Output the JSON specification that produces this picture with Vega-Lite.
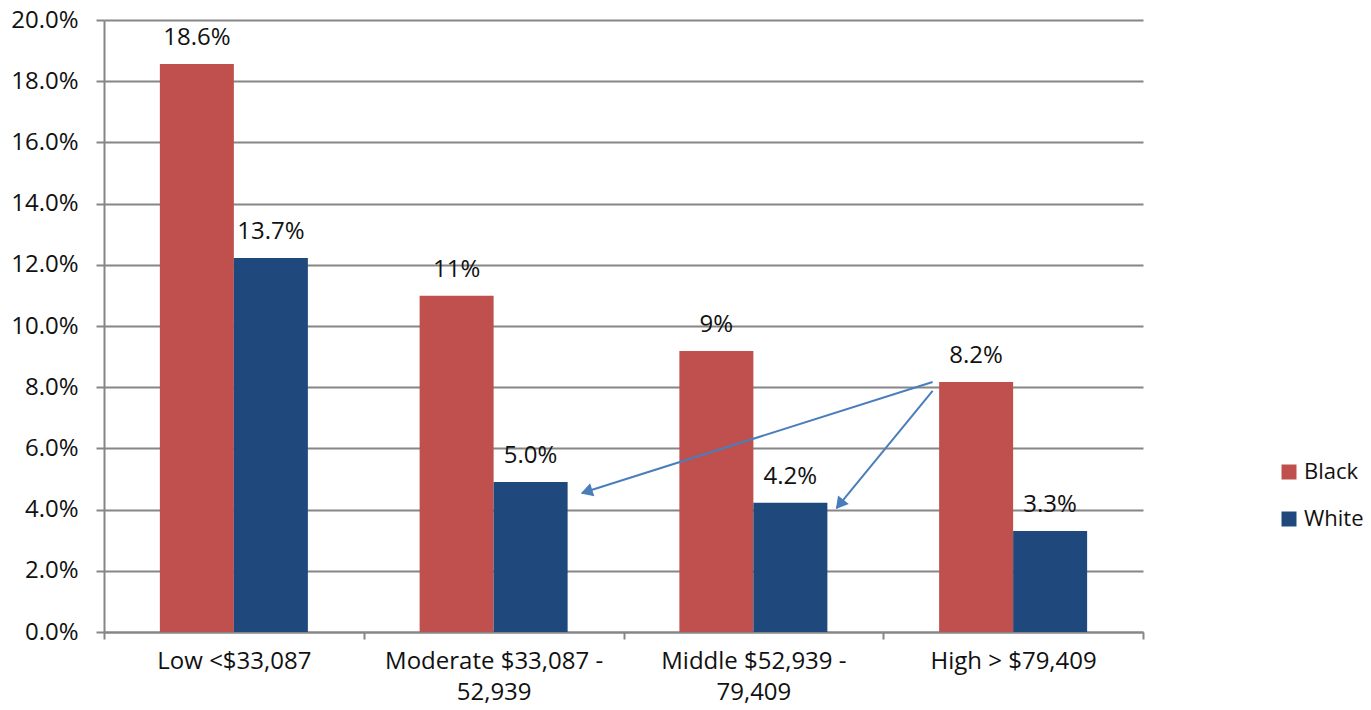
{
  "$schema": "https://vega.github.io/schema/vega-lite/v6.json",
  "width": 1039,
  "height": 612,
  "autosize": {"type": "none"},
  "padding": {"left": 104, "top": 20, "right": 228, "bottom": 78},
  "background": "white",
  "config": {
    "view": {"stroke": null},
    "font": "Open Sans",
    "axis": {"labelFont": "Open Sans", "labelColor": "#111111"},
    "legend": {"labelFont": "Open Sans"}
  },
  "datasets": {
    "bars": [
      {"income": "Low <$33,087", "race": "Black", "value": 0.1856, "label": "18.6%"},
      {"income": "Low <$33,087", "race": "White", "value": 0.1222, "label": "13.7%"},
      {"income": "Moderate $33,087 - 52,939", "race": "Black", "value": 0.1099, "label": "11%"},
      {"income": "Moderate $33,087 - 52,939", "race": "White", "value": 0.0490, "label": "5.0%"},
      {"income": "Middle $52,939 - 79,409", "race": "Black", "value": 0.0918, "label": "9%"},
      {"income": "Middle $52,939 - 79,409", "race": "White", "value": 0.0422, "label": "4.2%"},
      {"income": "High > $79,409", "race": "Black", "value": 0.0817, "label": "8.2%"},
      {"income": "High > $79,409", "race": "White", "value": 0.0330, "label": "3.3%"}
    ],
    "arrows": [
      {"arrow": "to White Moderate", "xs": 3.19, "ys": 0.0817, "xe": 1.84, "ye": 0.0454, "xh": 1.865, "yh": 0.0461},
      {"arrow": "to White Middle", "xs": 3.19, "ys": 0.0788, "xe": 2.82, "ye": 0.0405, "xh": 2.837, "yh": 0.0422}
    ]
  },
  "layer": [
    {
      "data": {"name": "bars"},
      "layer": [
        {
          "mark": {"type": "bar"},
          "encoding": {
            "x": {
              "field": "income", "type": "nominal", "sort": null,
              "scale": {"paddingInner": 0, "paddingOuter": 0},
              "axis": {
                "title": null, "labelAngle": 0, "labelFontSize": 24, "labelLimit": 0,
                "labelPadding": 10, "labelLineHeight": 31,
                "labelExpr": "split(replace(datum.label, '- ', '-|'), '|')",
                "tickBand": "extent", "tickSize": 7, "tickColor": "#868686", "tickWidth": 2,
                "domainColor": "#868686", "domainWidth": 2, "grid": false
              }
            },
            "xOffset": {"field": "race", "type": "nominal", "scale": {"paddingInner": 0, "paddingOuter": 0.755}},
            "y": {
              "field": "value", "type": "quantitative",
              "scale": {"domain": [0, 0.2], "nice": false},
              "axis": {
                "title": null, "format": ".1%", "values": [0, 0.02, 0.04, 0.06, 0.08, 0.1, 0.12, 0.14, 0.16, 0.18, 0.2],
                "labelFontSize": 24, "labelPadding": 18, "tickSize": 8, "tickColor": "#868686", "tickWidth": 2,
                "domainColor": "#868686", "domainWidth": 2,
                "grid": true, "gridColor": "#868686", "gridWidth": 2
              }
            },
            "color": {
              "field": "race", "type": "nominal",
              "scale": {"domain": ["Black", "White"], "range": ["#C0504D", "#1F497D"]},
              "legend": {
                "title": null, "orient": "none", "legendX": 1169, "legendY": 436, "padding": 5,
                "symbolType": "square", "symbolSize": 225, "symbolStrokeWidth": 0,
                "labelFontSize": 22, "labelColor": "#111111", "labelOffset": 4, "rowPadding": 25
              }
            }
          }
        },
        {
          "mark": {"type": "text", "fontSize": 24, "color": "#111111", "baseline": "alphabetic", "dy": -19},
          "encoding": {
            "x": {"field": "income", "type": "nominal", "sort": null},
            "xOffset": {"field": "race", "type": "nominal"},
            "y": {"field": "value", "type": "quantitative"},
            "text": {"field": "label"}
          }
        }
      ]
    },
    {
      "data": {"name": "arrows"},
      "layer": [
        {
          "mark": {"type": "rule", "color": "#4A7EBB", "strokeWidth": 2},
          "encoding": {
            "x": {"field": "xs", "type": "quantitative", "scale": {"domain": [0, 4], "nice": false, "zero": false}, "axis": null},
            "x2": {"field": "xe"},
            "y": {"field": "ys", "type": "quantitative"},
            "y2": {"field": "ye"}
          }
        },
        {
          "transform": [{"filter": "datum.arrow == 'to White Moderate'"}],
          "mark": {"type": "point", "shape": "triangle", "filled": true, "color": "#4A7EBB", "opacity": 1, "size": 190, "angle": 252},
          "encoding": {
            "x": {"field": "xh", "type": "quantitative", "scale": {"domain": [0, 4], "nice": false, "zero": false}, "axis": null},
            "y": {"field": "yh", "type": "quantitative"}
          }
        },
        {
          "transform": [{"filter": "datum.arrow == 'to White Middle'"}],
          "mark": {"type": "point", "shape": "triangle", "filled": true, "color": "#4A7EBB", "opacity": 1, "size": 190, "angle": 219},
          "encoding": {
            "x": {"field": "xh", "type": "quantitative", "scale": {"domain": [0, 4], "nice": false, "zero": false}, "axis": null},
            "y": {"field": "yh", "type": "quantitative"}
          }
        }
      ]
    }
  ],
  "resolve": {"scale": {"x": "independent"}}
}
